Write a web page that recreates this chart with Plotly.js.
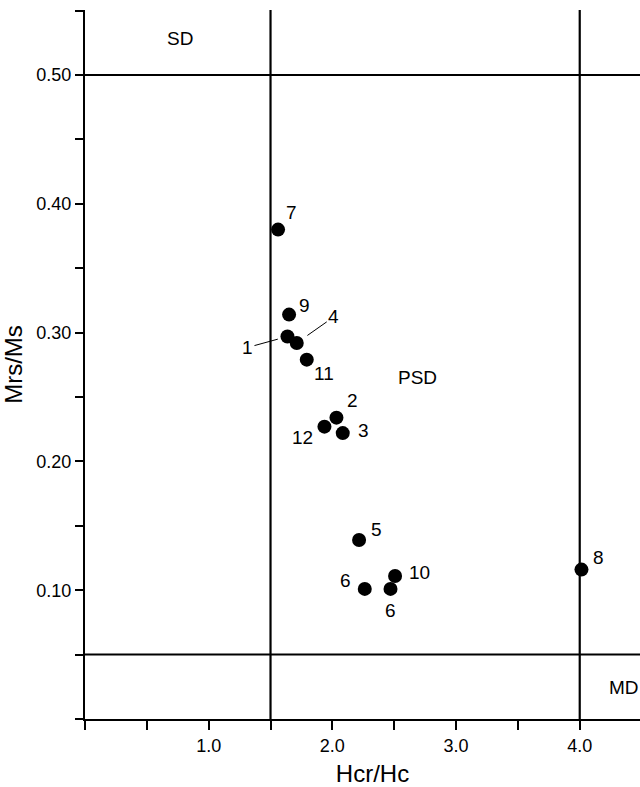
<!DOCTYPE html>
<html><head><meta charset="utf-8">
<script src="https://cdn.plot.ly/plotly-3.0.1.min.js"></script>
<style>html,body{margin:0;padding:0;overflow:hidden;background:#fff;}#chart{width:660px;height:787px;}</style>
</head><body><div id="chart"></div>
<script>
// ---- data ----
const sampleLabels = ['7','9','1','4','11','2','12','3','5','6','6','10','8'];
const hcrHc = [1.561, 1.650, 1.637, 1.712, 1.793, 2.033, 1.936, 2.084, 2.216, 2.262, 2.470, 2.507, 4.014];
const mrsMs = [0.380, 0.314, 0.297, 0.292, 0.279, 0.234, 0.227, 0.222, 0.139, 0.101, 0.101, 0.111, 0.116];
const regionNames = ['SD', 'PSD', 'MD'];
const regionHcrHc = [0.771, 2.686, 4.222];
const regionMrsMs = [0.5285, 0.2652, 0.0241];
const boundaryHcrHc = [1.5, 4.0];
const boundaryMrsMs = [0.5, 0.05];
const xTickVals = [0, 0.5, 1.0, 1.5, 2.0, 2.5, 3.0, 3.5, 4.0, 4.5];
const xTickText = ['', '', '1.0', '', '2.0', '', '3.0', '', '4.0', ''];
const yTickVals = [0, 0.05, 0.10, 0.15, 0.20, 0.25, 0.30, 0.35, 0.40, 0.45, 0.50, 0.55];
const yTickText = ['', '', '0.10', '', '0.20', '', '0.30', '', '0.40', '', '0.50', ''];

// ---- label placement (screen px offsets: dx right, dy down) ----
const labelOffsets = [[13,-17],[15,-9],[-40,11],[37,-26],[17,14],[16,-17],[-22,11],[21,-3],[17,-10],[-19,-8],[0,22],[24,-4],[17,-12]];
const leaderLabels = {2: 10, 3: 13}; // index -> standoff

const FONT = '"Liberation Sans", Arial, Helvetica, sans-serif';
const annotations = [];
sampleLabels.forEach((t, i) => {
  const [dx, dy] = labelOffsets[i];
  if (i in leaderLabels) {
    annotations.push({x: hcrHc[i], y: mrsMs[i], xref: 'x', yref: 'y', text: t,
      showarrow: true, arrowhead: 0, arrowwidth: 1, arrowcolor: '#000',
      ax: dx, ay: dy, axref: 'pixel', ayref: 'pixel', standoff: leaderLabels[i],
      font: {size: 19, color: '#000'}});
  } else {
    annotations.push({x: hcrHc[i], y: mrsMs[i], xref: 'x', yref: 'y', text: t,
      showarrow: false, xshift: dx, yshift: -dy, font: {size: 19, color: '#000'}});
  }
});
regionNames.forEach((t, i) => {
  annotations.push({x: regionHcrHc[i], y: regionMrsMs[i], xref: 'x', yref: 'y', text: t,
    showarrow: false, xanchor: i === 2 ? 'left' : 'center', font: {size: 19, color: '#000'}});
});

const shapes = [];
boundaryHcrHc.forEach(v => shapes.push({type: 'line', xref: 'x', yref: 'paper', x0: v, x1: v, y0: 0, y1: 1, line: {color: '#000', width: 2.2}}));
boundaryMrsMs.forEach(v => shapes.push({type: 'line', xref: 'paper', yref: 'y', x0: 0, x1: 1, y0: v, y1: v, line: {color: '#000', width: 2}}));

const trace = {x: hcrHc, y: mrsMs, type: 'scatter', mode: 'markers',
  marker: {color: '#000', size: 14, line: {width: 0}}, hoverinfo: 'skip'};

const layout = {
  width: 660, height: 787,
  margin: {l: 85, r: 0, t: 10, b: 68, pad: 0},
  paper_bgcolor: '#fff', plot_bgcolor: '#fff',
  font: {family: FONT, color: '#000', size: 18},
  showlegend: false,
  xaxis: {range: [0, 4.649], showgrid: false, zeroline: false, showline: true, linecolor: '#000', linewidth: 2,
    ticks: 'outside', ticklen: 9, tickwidth: 2, tickcolor: '#000', tickmode: 'array', tickvals: xTickVals, ticktext: xTickText,
    tickfont: {size: 18}, title: {text: 'Hcr/Hc', font: {size: 24}, standoff: 12}},
  yaxis: {range: [0, 0.5505], showgrid: false, zeroline: false, showline: true, linecolor: '#000', linewidth: 2,
    ticks: 'outside', ticklen: 8, tickwidth: 2, tickcolor: '#000', tickmode: 'array', tickvals: yTickVals, ticktext: yTickText,
    tickfont: {size: 18}, title: {text: 'Mrs/Ms', font: {size: 24}, standoff: 12}},
  shapes: shapes,
  annotations: annotations
};
Plotly.newPlot('chart', [trace], layout, {staticPlot: true, displayModeBar: false});
</script>
</body></html>
